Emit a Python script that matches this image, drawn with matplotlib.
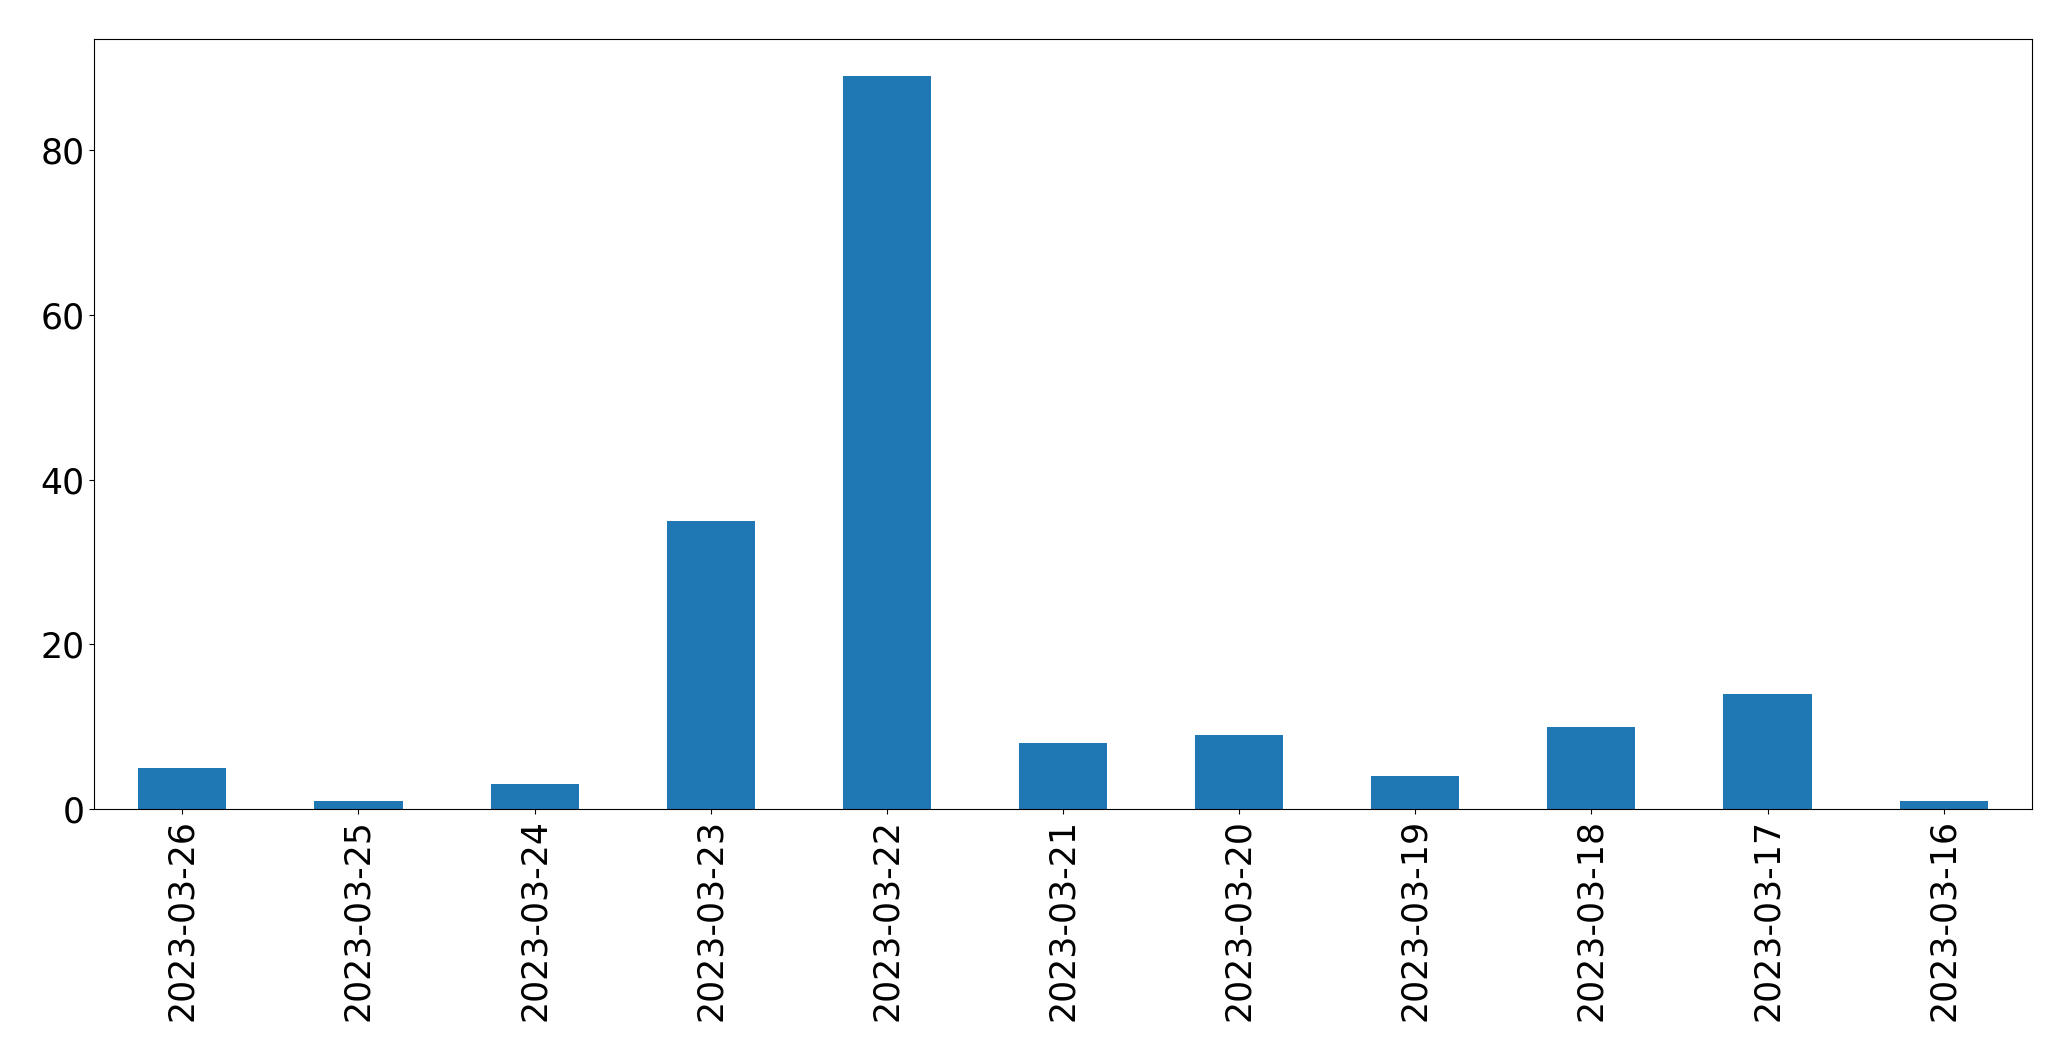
import matplotlib
matplotlib.use("Agg")
import matplotlib.pyplot as plt

dates = ["2023-03-26", "2023-03-25", "2023-03-24", "2023-03-23", "2023-03-22",
         "2023-03-21", "2023-03-20", "2023-03-19", "2023-03-18", "2023-03-17",
         "2023-03-16"]
counts = [5, 1, 3, 35, 89, 8, 9, 4, 10, 14, 1]

fig = plt.figure(figsize=(20.71, 10.61), dpi=100)
ax = fig.add_axes([94.3 / 2071, 1 - 809 / 1061, (2031.7 - 94.3) / 2071, (809 - 39.3) / 1061])
x = list(range(len(dates)))
ax.bar(x, counts, width=0.5, color="#1f77b4")
ax.set_xticks(x)
ax.set_xticklabels(dates, rotation=90, fontsize=25)
ax.tick_params(axis="y", labelsize=25)
ax.set_xlim(-0.5, len(dates) - 0.5)
ax.set_ylim(0, max(counts) * 1.05)
fig.savefig("out.png", dpi=100)
